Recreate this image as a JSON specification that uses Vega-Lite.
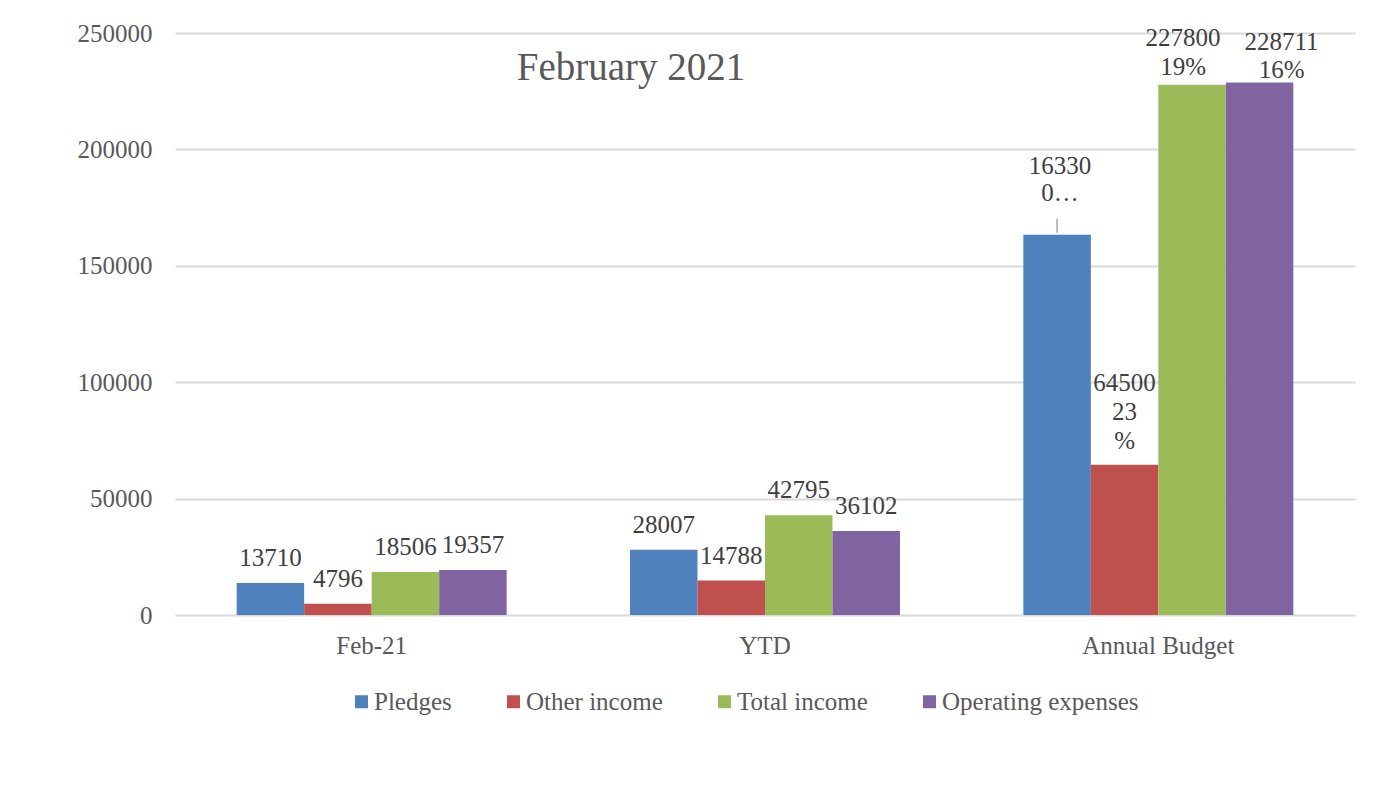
{
  "$schema": "https://vega.github.io/schema/vega-lite/v6.json",
  "autosize": {"type": "none"},
  "width": 1180,
  "height": 582,
  "padding": {"left": 175, "top": 33, "right": 20, "bottom": 187},
  "background": "white",
  "title": {
    "text": "February 2021",
    "anchor": "middle",
    "orient": "top",
    "offset": 0,
    "baseline": "alphabetic",
    "dx": -134,
    "dy": 98,
    "font": "Liberation Serif",
    "fontSize": 39,
    "fontWeight": "normal",
    "color": "#595959"
  },
  "data": {
    "values": [
      {"cat": "Feb-21", "series": "Pledges", "value": 13710, "label": "13710"},
      {"cat": "Feb-21", "series": "Other income", "value": 4796, "label": "4796"},
      {"cat": "Feb-21", "series": "Total income", "value": 18506, "label": "18506"},
      {"cat": "Feb-21", "series": "Operating expenses", "value": 19357, "label": "19357"},
      {"cat": "YTD", "series": "Pledges", "value": 28007, "label": "28007"},
      {"cat": "YTD", "series": "Other income", "value": 14788, "label": "14788"},
      {"cat": "YTD", "series": "Total income", "value": 42795, "label": "42795"},
      {"cat": "YTD", "series": "Operating expenses", "value": 36102, "label": "36102"},
      {"cat": "Annual Budget", "series": "Pledges", "value": 163300, "label": "16330\n0…"},
      {"cat": "Annual Budget", "series": "Other income", "value": 64500, "label": "64500\n23\n%"},
      {"cat": "Annual Budget", "series": "Total income", "value": 227800, "label": "227800\n19%"},
      {"cat": "Annual Budget", "series": "Operating expenses", "value": 228711, "label": "228711\n16%"}
    ]
  },
  "encoding": {
    "x": {
      "field": "cat",
      "type": "nominal",
      "sort": ["Feb-21", "YTD", "Annual Budget"],
      "scale": {"paddingInner": 0.3136, "paddingOuter": 0.1568},
      "axis": {
        "title": null,
        "labelAngle": 0,
        "labelFont": "Liberation Serif",
        "labelFontSize": 25,
        "labelColor": "#595959",
        "labelPadding": 18,
        "ticks": false,
        "domain": false,
        "grid": false
      }
    },
    "xOffset": {
      "field": "series",
      "type": "nominal",
      "sort": ["Pledges", "Other income", "Total income", "Operating expenses"],
      "scale": {"paddingInner": 0, "paddingOuter": 0}
    },
    "y": {
      "field": "value",
      "type": "quantitative",
      "scale": {"domain": [0, 250000], "nice": false},
      "axis": {
        "title": null,
        "values": [0, 50000, 100000, 150000, 200000, 250000],
        "format": "d",
        "labelFont": "Liberation Serif",
        "labelFontSize": 25,
        "labelColor": "#595959",
        "labelPadding": 23,
        "ticks": false,
        "domain": false,
        "grid": true,
        "gridColor": "#d9d9d9",
        "gridWidth": 1.8
      }
    }
  },
  "layer": [
    {
      "mark": {"type": "bar"},
      "encoding": {
        "color": {
          "field": "series",
          "type": "nominal",
          "sort": ["Pledges", "Other income", "Total income", "Operating expenses"],
          "scale": {
            "domain": ["Pledges", "Other income", "Total income", "Operating expenses"],
            "range": ["#4f81bd", "#c0504d", "#9bbb59", "#8064a2"]
          },
          "legend": {
            "title": null,
            "orient": "none",
            "legendX": 174,
            "legendY": 656,
            "direction": "horizontal",
            "columns": 4,
            "columnPadding": 49,
            "padding": 0,
            "symbolType": "square",
            "symbolSize": 169,
            "symbolStrokeWidth": 0,
            "labelOffset": 0,
            "labelFont": "Liberation Serif",
            "labelFontSize": 25,
            "labelColor": "#595959",
            "labelLimit": 400
          }
        }
      }
    },
    {
      "transform": [{"filter": "datum.cat !== 'Annual Budget'"}],
      "mark": {"type": "text", "baseline": "bottom", "align": "center", "dy": -12, "font": "Liberation Serif", "fontSize": 25, "color": "#404040"},
      "encoding": {"text": {"field": "label", "type": "nominal"}}
    },
    {
      "transform": [{"filter": "datum.cat === 'Annual Budget' && datum.series === 'Other income'"}],
      "mark": {"type": "text", "baseline": "bottom", "align": "center", "dy": -69, "lineBreak": "\n", "lineHeight": 29, "font": "Liberation Serif", "fontSize": 25, "color": "#404040"},
      "encoding": {"text": {"field": "label", "type": "nominal"}}
    },
    {
      "transform": [{"filter": "datum.cat === 'Annual Budget' && datum.series === 'Pledges'"}],
      "mark": {"type": "text", "baseline": "bottom", "align": "center", "dy": -56, "dx": 3, "lineBreak": "\n", "lineHeight": 27, "font": "Liberation Serif", "fontSize": 25, "color": "#404040"},
      "encoding": {"text": {"field": "label", "type": "nominal"}}
    },
    {
      "transform": [{"filter": "datum.cat === 'Annual Budget' && datum.series === 'Total income'"}],
      "mark": {"type": "text", "baseline": "bottom", "align": "center", "dy": -34, "dx": -9, "lineBreak": "\n", "lineHeight": 29, "font": "Liberation Serif", "fontSize": 25, "color": "#404040"},
      "encoding": {"text": {"field": "label", "type": "nominal"}}
    },
    {
      "transform": [{"filter": "datum.cat === 'Annual Budget' && datum.series === 'Operating expenses'"}],
      "mark": {"type": "text", "baseline": "bottom", "align": "center", "dy": -28, "dx": 22, "lineBreak": "\n", "lineHeight": 28, "font": "Liberation Serif", "fontSize": 25, "color": "#404040"},
      "encoding": {"text": {"field": "label", "type": "nominal"}}
    },
    {
      "transform": [{"filter": "datum.cat === 'Annual Budget' && datum.series === 'Pledges'"}],
      "mark": {"type": "rule", "color": "#a6a6a6", "strokeWidth": 1.5, "yOffset": -2, "y2Offset": -16, "xOffset": 2},
      "encoding": {"y2": {"field": "value"}}
    }
  ],
  "config": {
    "view": {"stroke": null}
  }
}
